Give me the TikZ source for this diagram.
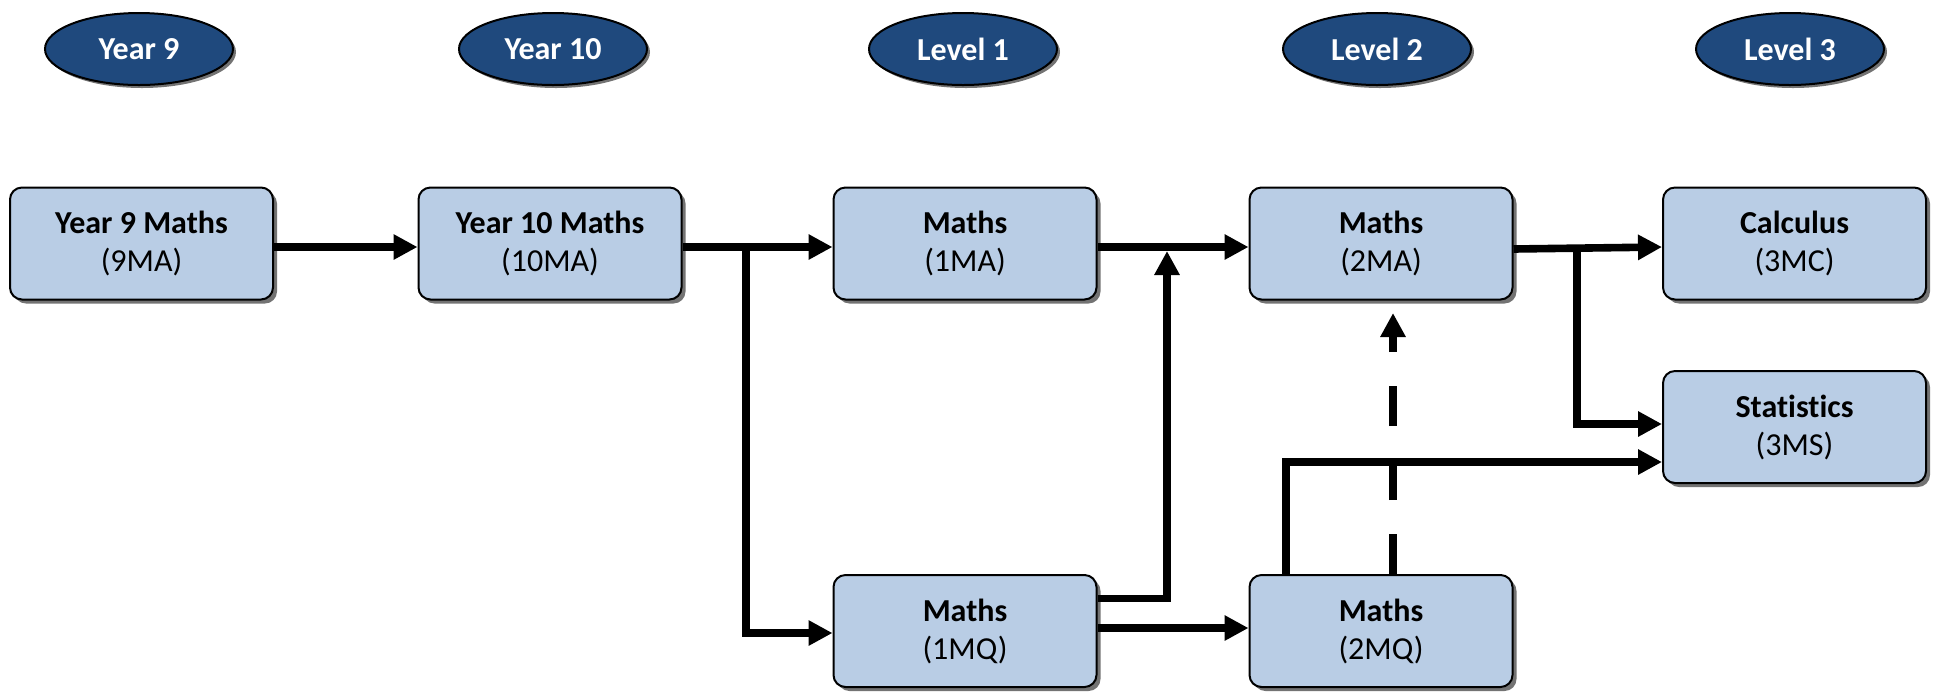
\documentclass[tikz,border=0pt]{standalone}
\usepackage{fontspec}
\setmainfont{Carlito}[Ligatures=CommonOff]
\usetikzlibrary{shapes.geometric,shadows,arrows.meta}
\definecolor{boxblue}{HTML}{B9CDE5}
\definecolor{hdrblue}{HTML}{1F497D}
\tikzset{
  box/.style={draw=black, line width=1pt, fill=boxblue, rounded corners=6pt,
    minimum width=131.5pt, minimum height=56pt, align=center, inner sep=0pt,
    font=\fontsize{16}{19}\selectfont,
    drop shadow={shadow xshift=2pt, shadow yshift=-2pt, fill=black!55, opacity=1}},
  hdr/.style={ellipse, draw=black, line width=1pt, fill=hdrblue, text=white,
    minimum width=94pt, minimum height=36pt, inner sep=0pt,
    font=\bfseries\fontsize{16}{17}\selectfont,
    drop shadow={shadow xshift=1.5pt, shadow yshift=-1.5pt, fill=black!55, opacity=1}},
  conn/.style={line width=3.8pt, -{Triangle[length=12pt,width=12pt]}},
  dconn/.style={line width=3.8pt, dash pattern=on 20pt off 17pt, -{Triangle[length=12pt,width=12pt]}},
}
\begin{document}
\begin{tikzpicture}[x=0.5pt,y=-0.5pt]
\useasboundingbox (0,0) rectangle (1936,693);
% headers
\node[hdr] (h1) at (139,49) {Year 9};
\node[hdr] (h2) at (553,49) {Year 10};
\node[hdr] (h3) at (963,49) {Level 1};
\node[hdr] (h4) at (1377,49) {Level 2};
\node[hdr] (h5) at (1790,49) {Level 3};
% boxes
\node[box] (y9) at (141.5,243.5) {\textbf{Year 9 Maths}\\(9MA)};
\node[box] (y10) at (550,243.5) {\textbf{Year 10 Maths}\\(10MA)};
\node[box] (m1) at (965,243.5) {\textbf{Maths}\\(1MA)};
\node[box] (m2) at (1381,243.5) {\textbf{Maths}\\(2MA)};
\node[box] (c3) at (1794.5,243.5) {\textbf{Calculus}\\(3MC)};
\node[box] (s3) at (1794.5,427) {\textbf{Statistics}\\(3MS)};
\node[box] (q1) at (965,631) {\textbf{Maths}\\(1MQ)};
\node[box] (q2) at (1381,631) {\textbf{Maths}\\(2MQ)};
% junction coordinates
\coordinate (j1) at (746,247);
\coordinate (j1b) at (746,633);
\coordinate (j2) at (1167,598.5);
\coordinate (j2t) at (1167,251);
\coordinate (j3) at (1577,247);
\coordinate (j3b) at (1577,424);
\coordinate (j4) at (1286,575);
\coordinate (j4t) at (1286,462);
\coordinate (j5) at (1393,575);
\coordinate (j5t) at (1393,313);
% connectors
\draw[conn] (y9.east |- 0,247) -- (y10.west |- 0,247);
\draw[conn] (y10.east |- 0,247) -- (m1.west |- 0,247);
\draw[conn] (j1) -- (j1b) -- (q1.west |- j1b);
\draw[conn] (m1.east |- 0,247) -- (m2.west |- 0,247);
\draw[conn] (q1.east |- j2) -- (j2) -- (j2t);
\draw[conn] (q1.east |- 0,628) -- (q2.west |- 0,628);
\draw[conn] (m2.east |- 0,249) -- (c3.west |- 0,247);
\draw[conn] (j3) -- (j3b) -- (s3.west |- j3b);
\draw[conn] (q2.north -| j4) -- (j4t) -- (s3.west |- j4t);
\draw[dconn] (q2.north -| j5) -- (j5t);
\end{tikzpicture}
\end{document}
